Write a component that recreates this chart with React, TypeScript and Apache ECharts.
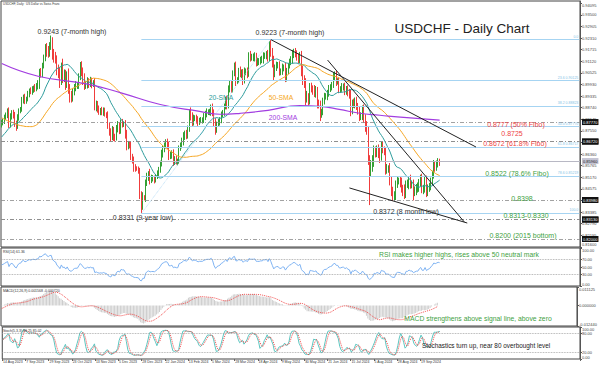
import { useEffect, useRef } from 'react';
import * as echarts from 'echarts';

// ---- price data (pips, i.e. price * 10000) ----
const warmupCloses = [
  9090, 9070, 9080, 9010, 8990, 9050, 9020, 8960, 8950, 8950,
  8960, 8960, 8970, 8980, 8980, 8960, 8970, 8985, 9000, 8950,
  8960, 8960, 8970, 8960, 8870, 8830, 8760, 8690, 8630, 8580,
  8590, 8570, 8600, 8630, 8650, 8670, 8640, 8620, 8700, 8700,
  8710, 8750, 8750, 8760, 8730, 8750, 8760, 8750, 8770, 8770,
  8780, 8790,
];
const firstOpen = 8790;
const closes = [
  8795, 8805, 8820,
  8835, 8850, 8790, 8835, 8845,
  8830, 8795, 8780, 8825, 8860,
  8865, 8915, 8925, 8910, 8920,
  8945, 8960, 8955, 8970, 8975,
  8970, 8985, 8990, 9055, 9050,
  9090, 9130, 9180, 9160, 9150,
  9190, 9200, 9150, 9130, 9120,
  9070, 9050, 9010, 9085, 9030,
  9040, 8995, 9040, 8970, 8930,
  8925, 8955, 8980, 8985, 8985,
  9035, 9090, 9060, 9020, 8985,
  8990, 9010, 8995, 9010, 8995,
  9000, 8880, 8890, 8870, 8855,
  8860, 8850, 8860, 8840, 8835,
  8780, 8750, 8725, 8755, 8725,
  8720, 8765, 8780, 8760, 8800,
  8790, 8790, 8735, 8680, 8685,
  8680, 8625, 8605, 8570, 8565,
  8560, 8550, 8425, 8380, 8415,
  8410, 8490, 8520, 8530, 8505,
  8510, 8510, 8505, 8520, 8540,
  8555, 8590, 8640, 8660, 8680,
  8690, 8680, 8630, 8630, 8640,
  8600, 8610, 8600, 8600, 8670,
  8680, 8700, 8730, 8740, 8730,
  8770, 8850, 8830, 8800, 8820,
  8820, 8810, 8800, 8810, 8810,
  8810, 8830, 8840, 8850, 8850,
  8850, 8870, 8850, 8800, 8765,
  8790, 8800, 8810, 8840, 8850,
  8880, 8910, 8890, 8970, 8990,
  8970, 9050, 9080, 9015, 9020,
  9060, 9050, 9050, 9020, 9060,
  9060, 9050, 9140, 9130, 9130,
  9130, 9140, 9110, 9110, 9110,
  9120, 9120, 9140, 9140, 9150,
  9130, 9190, 9160, 9110, 9050,
  9080, 9090, 9090, 9060, 9060,
  9080, 9080, 9030, 9060, 9090,
  9110, 9120, 9150, 9160, 9150,
  9130, 9120, 9140, 9060, 9020,
  9000, 8920, 8930, 8910, 8980,
  8970, 8960, 8950, 8960, 8900,
  8890, 8840, 8850, 8910, 8930,
  8930, 8950, 8970, 8980, 8990,
  9030, 9040, 9010, 9010, 8970,
  8970, 8980, 8980, 8960, 8970,
  8950, 8940, 8860, 8900, 8890,
  8910, 8880, 8860, 8830, 8830,
  8860, 8820, 8780, 8760, 8610,
  8550, 8570, 8590, 8650, 8640,
  8660, 8640, 8620, 8680, 8660,
  8650, 8560, 8560, 8560, 8500,
  8450, 8420, 8420, 8480, 8500,
  8500, 8490, 8460, 8450, 8430,
  8480, 8480, 8500, 8480, 8480,
  8440, 8450, 8460, 8460, 8490,
  8510, 8460, 8460, 8500, 8440,
  8460, 8470, 8500, 8530, 8580,
  8570, 8585, 8600, 8595,
];
const wickUp = [
  15, 12, 18,
  14, 20, 25, 10, 16,
  18, 22, 12, 15, 10,
  12, 14, 16, 20, 10,
  15, 12, 18, 14, 12,
  20, 15, 25, 18, 22,
  14, 16, 20, 25, 30,
  20, 44, 35, 25, 30,
  22, 25, 30, 20, 40,
  30, 28, 20, 35, 25,
  30, 20, 15, 25, 20,
  15, 18, 22, 20, 30,
  18, 20, 15, 22, 18,
  15, 25, 20, 18, 15,
  12, 18, 15, 14, 10,
  20, 15, 18, 25, 20,
  15, 20, 25, 18, 14,
  16, 12, 20, 25, 18,
  15, 20, 12, 18, 14,
  8, 12, 15, 20, 25,
  10, 15, 20, 18, 30,
  20, 18, 15, 14, 12,
  15, 12, 18, 20, 15,
  22, 25, 20, 18, 15,
  20, 15, 18, 12, 10,
  15, 20, 18, 16, 20,
  12, 15, 25, 20, 18,
  15, 18, 20, 12, 16,
  14, 16, 18, 20, 15,
  18, 20, 25, 15, 20,
  12, 16, 15, 14, 12,
  15, 20, 25, 18, 22,
  20, 15, 25, 30, 10,
  18, 25, 20, 22, 20,
  15, 20, 18, 25, 20,
  22, 18, 15, 20, 18,
  15, 20, 18, 16, 14,
  20, 25, 35, 20, 30,
  15, 20, 18, 22, 15,
  20, 15, 25, 18, 12,
  15, 18, 20, 16, 20,
  18, 22, 20, 25, 30,
  20, 25, 30, 18, 20,
  22, 18, 30, 25, 20,
  15, 20, 18, 15, 20,
  18, 15, 20, 14, 16,
  25, 20, 22, 15, 18,
  14, 20, 18, 22, 15,
  18, 20, 25, 15, 20,
  16, 20, 18, 22, 20,
  25, 30, 20, 25, 20,
  20, 35, 40, 30, 25,
  20, 25, 30, 20, 18,
  15, 20, 25, 18, 30,
  20, 18, 25, 20, 22,
  15, 20, 25, 18, 30,
  20, 25, 18, 30, 20,
  25, 20, 22, 30, 18,
  20, 25, 18, 22, 25,
  20, 18, 15, 20, 25,
  20, 18, 15, 12,
];
const wickDn = [
  18, 12, 15,
  10, 15, 20, 18, 22,
  12, 20, 25, 15, 18,
  15, 12, 20, 18, 16,
  14, 18, 12, 15, 20,
  15, 12, 18, 20, 22,
  20, 15, 18, 25, 20,
  15, 20, 30, 25, 20,
  30, 25, 35, 20, 30,
  25, 30, 20, 25, 30,
  25, 20, 18, 22, 15,
  15, 20, 25, 30, 20,
  15, 18, 20, 15, 22,
  15, 20, 25, 22, 18,
  20, 15, 18, 12, 15,
  15, 20, 25, 18, 22,
  20, 15, 18, 22, 20,
  18, 15, 20, 25, 20,
  15, 20, 18, 25, 20,
  10, 15, 20, 47, 30,
  12, 20, 18, 22, 25,
  18, 15, 20, 15, 12,
  20, 15, 18, 22, 15,
  15, 18, 25, 20, 18,
  25, 20, 18, 22, 15,
  18, 15, 20, 22, 18,
  15, 20, 22, 25, 18,
  15, 18, 20, 15, 16,
  18, 15, 20, 16, 14,
  15, 18, 20, 25, 30,
  20, 15, 18, 16, 14,
  18, 15, 25, 20, 18,
  20, 18, 15, 30, 20,
  18, 20, 25, 30, 22,
  20, 25, 18, 20, 15,
  18, 20, 25, 22, 18,
  15, 18, 20, 16, 18,
  20, 18, 25, 30, 35,
  20, 18, 15, 22, 20,
  18, 20, 25, 22, 15,
  15, 18, 20, 22, 18,
  15, 20, 18, 25, 30,
  25, 35, 20, 25, 20,
  18, 20, 22, 25, 30,
  20, 35, 18, 15, 20,
  15, 18, 20, 16, 18,
  15, 20, 25, 18, 22,
  20, 15, 18, 22, 20,
  18, 20, 30, 20, 18,
  20, 18, 22, 25, 20,
  20, 25, 30, 25, 30,
  176, 30, 25, 20, 22,
  20, 25, 30, 18, 20,
  20, 30, 25, 20, 25,
  30, 25, 22, 20, 18,
  20, 25, 22, 30, 25,
  20, 18, 25, 22, 20,
  42, 20, 25, 22, 18,
  20, 25, 30, 22, 25,
  20, 18, 20, 25, 20,
  25, 20, 18, 20,
];

// 200-SMA at a few bar positions
const sma200Index = [0, 25, 59, 82, 109, 136, 150, 164, 183, 205, 219, 232, 246, 260, 274, 301];
const sma200Value = [0.9100, 0.9035, 0.8995, 0.8950, 0.8890, 0.8855, 0.8840, 0.8845, 0.8860, 0.8885, 0.8880, 0.8865, 0.8845, 0.8835, 0.8825, 0.8810];

const dateLabels = [
  '14 Aug 2023', '7 Sep 2023', '29 Sep 2023', '23 Oct 2023', '13 Nov 2023', '5 Dec 2023',
  '28 Dec 2023', '22 Jan 2024', '13 Feb 2024', '5 Mar 2024', '28 Mar 2024', '18 Apr 2024',
  '9 May 2024', '30 May 2024', '21 Jun 2024', '15 Jul 2024', '5 Aug 2024', '28 Aug 2024', '19 Sep 2024',
];
const priceTicks = [
  0.816, 0.82195, 0.8279, 0.83385, 0.8398, 0.84575, 0.8517, 0.85765, 0.8636, 0.86955, 0.8755,
  0.88145, 0.8874, 0.89335, 0.8993, 0.90525, 0.9112, 0.91715, 0.9231, 0.92905, 0.935, 0.94095,
];
const keyLevels = [0.8777, 0.8725, 0.8672, 0.8398, 0.8330, 0.8313, 0.8200];
const currentPrice = 0.8596;
const fibLevels = [0.9223, 0.90125, 0.88823, 0.8777, 0.86717, 0.85219, 0.8331];
const fibNames = ['0.0', '23.6 0.90125', '38.2 0.88823', '50.0 0.87770', '61.8 0.86717', '78.6 0.85219', '100.0'];
const fibStartIndex = 96;
const fibDiagonal = [96, 0.8331, 185, 0.9223];
const trendLines = [
  [185, 0.9223, 326, 0.8672],
  [224, 0.9118, 318, 0.8287],
  [239, 0.8462, 320, 0.8282],
];
const rsiTicks = [0, 30, 50, 70, 100];
const macdTicks = [-0.01244, 0, 0.011125];
const stochTicks = [0, 20, 80, 100];

const CATS = 398;
const FONT = 'Liberation Sans, Arial, sans-serif';

function sma(arr: number[], n: number) {
  return arr.map((_, i) => {
    const s = Math.max(0, i - n + 1);
    let t = 0;
    for (let k = s; k <= i; k++) t += arr[k];
    return t / (i - s + 1);
  });
}
function ema(arr: number[], n: number) {
  const k = 2 / (n + 1);
  const out: number[] = [];
  arr.forEach((v, i) => out.push(i === 0 ? v : v * k + out[i - 1] * (1 - k)));
  return out;
}
function rsi(arr: number[], p: number) {
  const out: (number | null)[] = [null];
  let ag = 0, al = 0;
  for (let i = 1; i < arr.length; i++) {
    const ch = arr[i] - arr[i - 1];
    const g = Math.max(ch, 0), l = Math.max(-ch, 0);
    if (i <= p) { ag += g / p; al += l / p; } else { ag = (ag * (p - 1) + g) / p; al = (al * (p - 1) + l) / p; }
    out.push(i < p ? null : al === 0 ? 100 : 100 - 100 / (1 + ag / al));
  }
  return out;
}

export default function App() {
  const ref = useRef<HTMLDivElement>(null);
  useEffect(() => {
    if (!ref.current) return;
    const chart = echarts.init(ref.current, undefined, { renderer: 'svg' });
    const N = Math.min(closes.length, wickUp.length, wickDn.length);
    const c = closes.slice(0, N).map((v) => v / 10000);
    const o = c.map((v, i) => (i === 0 ? firstOpen / 10000 : c[i - 1]));
    const h = c.map((v, i) => Math.max(o[i], v) + wickUp[i] / 10000);
    const l = c.map((v, i) => Math.min(o[i], v) - wickDn[i] / 10000);
    const candles = c.map((v, i) => [o[i], v, l[i], h[i]]);
    const all = warmupCloses.map((v) => v / 10000).concat(c);
    const W = warmupCloses.length;
    const sma20 = sma(all, 20).slice(W);
    const sma50 = sma(all, 50).slice(W);
    const s200: (number | null)[] = new Array(N).fill(null);
    sma200Index.forEach((ix, k) => { s200[ix] = sma200Value[k]; });
    const rsiVals = rsi(all, 14).slice(W);
    const e12 = ema(all, 12), e26 = ema(all, 26);
    const macdAll = e12.map((v, i) => v - e26[i]);
    const macdSig = sma(macdAll, 9).slice(W);
    const macd = macdAll.slice(W);
    const stMain = c.map((v, i) => {
      let num = 0, den = 0;
      for (let j = Math.max(0, i - 2); j <= i; j++) {
        const s = Math.max(0, j - 4);
        const hh = Math.max(...h.slice(s, j + 1));
        const ll = Math.min(...l.slice(s, j + 1));
        num += c[j] - ll; den += hh - ll;
      }
      return den === 0 ? 50 : (100 * num) / den;
    });
    const stSig = sma(stMain, 3);

    const cats = Array.from({ length: CATS }, (_, i) => String(i));
    const labelInterval = (i: number) => i % 16 === 0 && i / 16 < dateLabels.length;
    const mkX = (gi: number, show: boolean) => ({
      type: 'category', gridIndex: gi, data: cats, boundaryGap: true,
      axisLine: { show: false },
      axisTick: { show, interval: labelInterval, length: 2, lineStyle: { color: '#666' } },
      axisLabel: {
        show, interval: labelInterval, align: 'left', margin: 1, fontSize: 3.5, color: '#333', fontFamily: FONT,
        formatter: (_v: string, i: number) => dateLabels[i / 16] ?? '',
      },
      splitLine: { show: false },
    });
    const mkY = (gi: number, min: number, max: number, ticks: number[], dec: number) => ({
      type: 'value', gridIndex: gi, position: 'right', min, max,
      splitLine: { show: false },
      axisLine: { show: true, lineStyle: { color: '#555', width: 1 } },
      axisTick: { show: true, length: 2, customValues: ticks, lineStyle: { color: '#555' } },
      axisLabel: {
        customValues: ticks, formatter: (v: number) => v.toFixed(dec), fontSize: 4, color: '#444', margin: 2, fontFamily: FONT,
        verticalAlignMaxLabel: 'top', verticalAlignMinLabel: 'bottom',
      },
    });
    const gridBase = { left: 1, right: 20, show: true, borderColor: '#444', borderWidth: 1, backgroundColor: '#fff' };

    const levelMarks: any[] = keyLevels.map((v) => ({
      yAxis: v,
      lineStyle: { color: '#8a8a8a', type: [4, 2, 1, 2], width: 0.8 },
      label: { show: true, position: 'end', distance: 2, formatter: v.toFixed(5), backgroundColor: '#111', color: '#fff', fontSize: 4, padding: [1, 1], fontFamily: FONT },
    }));
    levelMarks.push({
      yAxis: currentPrice,
      lineStyle: { color: '#b8b8c4', type: 'solid', width: 1 },
      label: { show: true, position: 'end', distance: 2, formatter: currentPrice.toFixed(5), backgroundColor: '#c4c4d4', color: '#222', fontSize: 4, padding: [1, 1], fontFamily: FONT },
    });
    fibLevels.forEach((v, k) => {
      levelMarks.push([
        {
          coord: [fibStartIndex, v],
          lineStyle: { color: '#a6d4f2', type: 'solid', width: 1 },
          label: { show: true, position: 'insideEndTop', distance: 1, formatter: fibNames[k], color: '#86bfe6', fontSize: 3.5, fontFamily: FONT },
        },
        { coord: [CATS - 1, v] },
      ]);
    });
    levelMarks.push([
      { coord: [fibDiagonal[0], fibDiagonal[1]], lineStyle: { color: '#a6d4f2', type: 'dotted', width: 0.8 }, label: { show: false } },
      { coord: [fibDiagonal[2], fibDiagonal[3]] },
    ]);
    trendLines.forEach((t) => {
      levelMarks.push([
        { coord: [t[0], t[1]], lineStyle: { color: '#222', type: 'solid', width: 1 }, label: { show: false } },
        { coord: [t[2], t[3]] },
      ]);
    });

    const txt = (text: string, x: number, y: number, fill: string, size: number, align = 'center') => ({
      type: 'text', x, y, z: 100,
      style: { text, fill, fontSize: size, fontFamily: FONT, align, verticalAlign: 'middle', textAlign: align, textVerticalAlign: 'middle' },
    });
    const red = '#ee4444', green = '#3f9f3f';
    const lastRsi = rsiVals[N - 1] ?? 0;

    chart.setOption({
      animation: false,
      backgroundColor: '#fff',
      grid: [
        { ...gridBase, top: 1, height: 246 },
        { ...gridBase, top: 248, height: 38 },
        { ...gridBase, top: 287, height: 39 },
        { ...gridBase, top: 327, height: 32 },
      ],
      xAxis: [mkX(0, false), mkX(1, false), mkX(2, false), mkX(3, true)],
      yAxis: [
        mkY(0, 0.8159, 0.9421, priceTicks, 5),
        mkY(1, 0, 100, rsiTicks, 2),
        mkY(2, -0.01244, 0.011125, macdTicks, 6),
        mkY(3, 0, 100, stochTicks, 2),
      ],
      series: [
        {
          type: 'candlestick', xAxisIndex: 0, yAxisIndex: 0, data: candles, barWidth: 1,
          itemStyle: { color: '#33a033', color0: '#f03c3c', borderColor: '#33a033', borderColor0: '#f03c3c', borderWidth: 1 },
          markLine: { silent: true, symbol: ['none', 'none'], animation: false, data: levelMarks },
        },
        { type: 'line', xAxisIndex: 0, yAxisIndex: 0, data: sma20, showSymbol: false, lineStyle: { color: '#2e9c9c', width: 1 } },
        { type: 'line', xAxisIndex: 0, yAxisIndex: 0, data: sma50, showSymbol: false, lineStyle: { color: '#f5a623', width: 1 } },
        { type: 'line', xAxisIndex: 0, yAxisIndex: 0, data: s200, showSymbol: false, connectNulls: true, smooth: true, lineStyle: { color: '#a23de0', width: 1.2 } },
        {
          type: 'line', xAxisIndex: 1, yAxisIndex: 1, data: rsiVals, showSymbol: false, lineStyle: { color: '#7fb3f2', width: 1 },
          markLine: { silent: true, symbol: ['none', 'none'], label: { show: false }, lineStyle: { color: '#9a9a9a', type: 'dotted', width: 0.8 }, data: [{ yAxis: 70 }, { yAxis: 30 }] },
        },
        { type: 'bar', xAxisIndex: 2, yAxisIndex: 2, data: macd, barWidth: 1, itemStyle: { color: '#cdcdcd' } },
        { type: 'line', xAxisIndex: 2, yAxisIndex: 2, data: macdSig, showSymbol: false, lineStyle: { color: '#f04a4a', width: 1, type: 'dotted' } },
        {
          type: 'line', xAxisIndex: 3, yAxisIndex: 3, data: stMain, showSymbol: false, lineStyle: { color: '#5cc6c0', width: 1 },
          markLine: { silent: true, symbol: ['none', 'none'], label: { show: false }, lineStyle: { color: '#9a9a9a', type: 'dotted', width: 0.8 }, data: [{ yAxis: 80 }, { yAxis: 20 }] },
        },
        { type: 'line', xAxisIndex: 3, yAxisIndex: 3, data: stSig, showSymbol: false, lineStyle: { color: '#f04a4a', width: 1, type: 'dotted' } },
      ],
      graphic: [
        txt('USDCHF, Daily:  US Dollar vs Swiss Franc', 3, 4, '#333', 3, 'left'),
        txt('USDCHF - Daily Chart', 462, 28, '#222', 13.5),
        txt('0.9243 (7-month high)', 72, 31, '#333', 7),
        txt('0.9223 (7-month high)', 290, 32, '#333', 7),
        txt('20-SMA', 221, 97, '#2e9c9c', 6.8),
        txt('50-SMA', 281, 97, '#f5a623', 6.8),
        txt('200-SMA', 283, 117, '#a23de0', 6.8),
        txt('0.8331 (9-year low)', 143, 217, '#333', 7),
        txt('0.8372 (8 month low)', 406, 211, '#333', 7),
        txt('0.8777 (50% Fibo)', 516, 124, red, 7),
        txt('0.8725', 512, 133, red, 7),
        txt('0.8672 (61.8% Fibo)', 515, 143, red, 7),
        txt('0.8522 (78.6% Fibo)', 517, 173, green, 7),
        txt('0.8398', 522, 198, green, 7),
        txt('0.8313-0.8330', 526, 215, green, 7),
        txt('0.8200 (2015 bottom)', 523, 235, green, 7),
        txt('RSI(14) ' + lastRsi.toFixed(2), 3, 252, '#333', 3.5, 'left'),
        txt('MACD(12,26,9) ' + macd[N - 1].toFixed(6) + ' ' + macdSig[N - 1].toFixed(6), 3, 291, '#333', 3.5, 'left'),
        txt('Stoch(5,3,3) ' + stMain[N - 1].toFixed(2) + ' ' + stSig[N - 1].toFixed(2), 3, 331, '#333', 3.5, 'left'),
        txt('RSI makes higher highs, rises above 50 neutral mark', 459, 254, green, 6.8),
        txt('MACD strengthens above signal line, above zero', 478, 318, green, 6.8),
        txt('Stochastics turn up, near 80 overbought level', 486, 345, '#222', 6.4),
      ],
    });
    return () => chart.dispose();
  }, []);
  return <div ref={ref} style={{ position: 'absolute', left: 0, top: 0, width: 600, height: 366 }} />;
}
